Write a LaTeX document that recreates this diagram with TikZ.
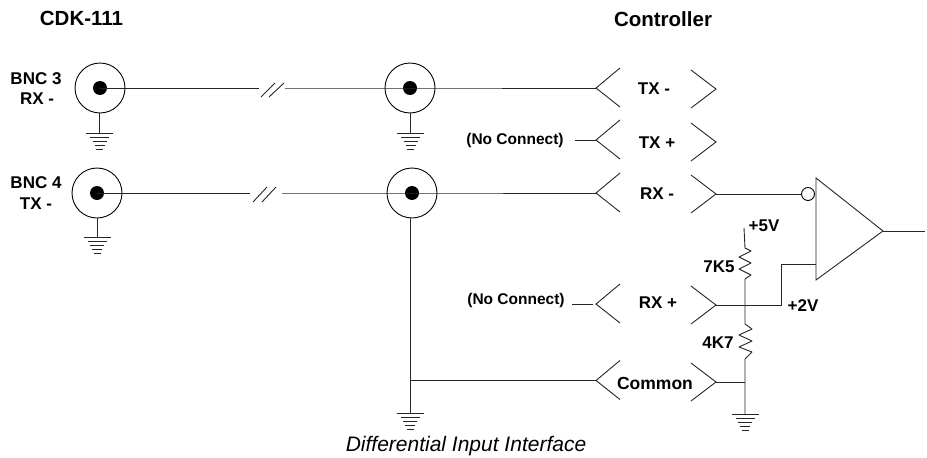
\documentclass[tikz,border=0pt]{standalone}
\usepackage{fontspec}
\setmainfont{Liberation Sans}
\tikzset{
  wire/.style={line width=0.9pt,black!85},
  lab/.style={anchor=base,inner sep=0pt,font=\fontsize{17}{17}\selectfont\bfseries},
  nclab/.style={anchor=base,inner sep=0pt,font=\fontsize{15.5}{16}\selectfont\bfseries},
  headlab/.style={anchor=base,inner sep=0pt,font=\fontsize{20.5}{21}\selectfont\bfseries},
  bnc/.style={circle,draw,line width=0.9pt,fill=none,minimum size=50pt,inner sep=0pt},
  pin/.style={circle,fill=black,minimum size=14pt,inner sep=0pt},
  chev/.pic={\draw[wire] (24,-20)--(0,0)--(24,19);},
  chevr/.pic={\draw[wire] (-25,-19)--(0,0)--(-25,19);},
  gnd/.pic={
    \draw[wire] (-13.5,0)--(13.5,0);
    \draw[wire] (-9.5,4)--(9.5,4);
    \draw[wire] (-7,8)--(7,8);
    \draw[wire] (-5,12)--(5,12);
    \draw[wire] (-3.5,16)--(3.5,16);
  }
}
\begin{document}
\begin{tikzpicture}[x=1pt,y=-1pt]
\useasboundingbox (0,0) rectangle (927,458);
% connectors' anchor points
\coordinate (L1) at (596,88);  \coordinate (R1) at (716,89);
\coordinate (L2) at (596,140); \coordinate (R2) at (716,142);
\coordinate (L3) at (596,193); \coordinate (R3) at (716,194);
\coordinate (L4) at (596,304); \coordinate (R4) at (716,305);
\coordinate (L5) at (596,380.5); \coordinate (R5) at (716,382);
\foreach \n in {1,...,5}{
  \path (L\n) pic {chev};
  \path (R\n) pic {chevr};
}
% BNC connectors
\node[bnc] (b1) at (100,88) {};  \node[pin] (p1) at (100,88) {};
\node[bnc] (b2) at (410,88) {};  \node[pin] (p2) at (410,88) {};
\node[bnc] (b3) at (97,193) {};  \node[pin] (p3) at (97,193) {};
\node[bnc] (b4) at (412,193) {}; \node[pin] (p4) at (412,193) {};
% cable breaks
\coordinate (c1a) at (259,88); \coordinate (c1b) at (285,88);
\coordinate (c2a) at (250,193);  \coordinate (c2b) at (282,193);
\draw[wire] (p1.center)--(c1a);
\draw[wire] (c1b)--(p2.center)--(L1);
\draw[wire] (p3.center)--(c2a);
\draw[wire] (c2b)--(p4.center)--(L3);
\draw[wire] (261,97)--(275,83) (269,97)--(284,83);
\draw[wire] (253,202)--(267,187) (262,202)--(276,187);
% grounds
\coordinate (g1) at (99.5,133); \coordinate (g2) at (410.5,133);
\coordinate (g3) at (97,237);   \coordinate (g4) at (410,413);
\coordinate (g5) at (745,414);
\foreach \n in {1,...,5}{\path (g\n) pic {gnd};}
\draw[wire] (99.5,113)--(g1);
\draw[wire] (410.5,113)--(g2);
\draw[wire] (97,218)--(g3);
\draw[wire] (410,218)--(g4);
\coordinate (j1) at (410,380.5);
\draw[wire] (j1)--(L5);
% no-connect stubs
\coordinate (n1) at (575,140); \coordinate (n2) at (572,304);
\draw[wire] (n1)--(L2);
\draw[wire] (n2)--(593,304);
% comparator
\node[circle,draw,line width=0.9pt,minimum size=13pt,inner sep=0pt] (inv) at (808,194) {};
\coordinate (t1) at (816,178); \coordinate (t2) at (816,280); \coordinate (t3) at (883,231);
\draw[wire,line join=miter] (t1)--(t3)--(t2)--cycle;
\coordinate (out) at (925,231);
\draw[wire] (t3)--(out);
\draw[wire] (R3)--(inv.west);
\coordinate (inp) at (816,264);
\draw[wire] (R4)--(781,305)--(781,264)--(inp);
% resistor network
\coordinate (vcc) at (744,228);
\coordinate (mid) at (745,305);
\draw[wire,line join=round] (vcc)--(745,248)--(751,251)--(739,257)--(751,263)--(739,269)--(751,275)--(745,279)--(mid);
\draw[wire,line join=round] (mid)--(745,324)--(752,329)--(739,335)--(752,341)--(739,347)--(752,352)--(745,359)--(g5);
\draw[wire] (R5)--(745,382);
% labels
\node[headlab] (h1) at (81.5,25) {CDK-111};
\node[headlab] (h2) at (663,26) {Controller};
\node[lab] (t3a) at (36,84) {BNC 3};
\node[lab] (t3b) at (37,104) {RX -};
\node[lab] (t4a) at (36,188) {BNC 4};
\node[lab] (t4b) at (36,209) {TX -};
\node[lab] (tl1) at (654,94) {TX -};
\node[lab] (tl2) at (657,148) {TX +};
\node[lab] (tl3) at (657,199) {RX -};
\node[lab] (tl4) at (658,308) {RX +};
\node[lab,font=\fontsize{17.5}{18}\selectfont\bfseries] (tl5) at (655,389) {Common};
\node[nclab] (nc1) at (515,144) {(No Connect)};
\node[nclab] (nc2) at (516,304) {(No Connect)};
\node[lab] (v5) at (764,231) {+5V};
\node[lab] (r1) at (719,272) {7K5};
\node[lab] (v2) at (803,311) {+2V};
\node[lab] (r2) at (718,348) {4K7};
\node[anchor=base,inner sep=0pt,font=\fontsize{21}{21}\selectfont\itshape] (cap) at (466,451) {Differential Input Interface};
\end{tikzpicture}
\end{document}
